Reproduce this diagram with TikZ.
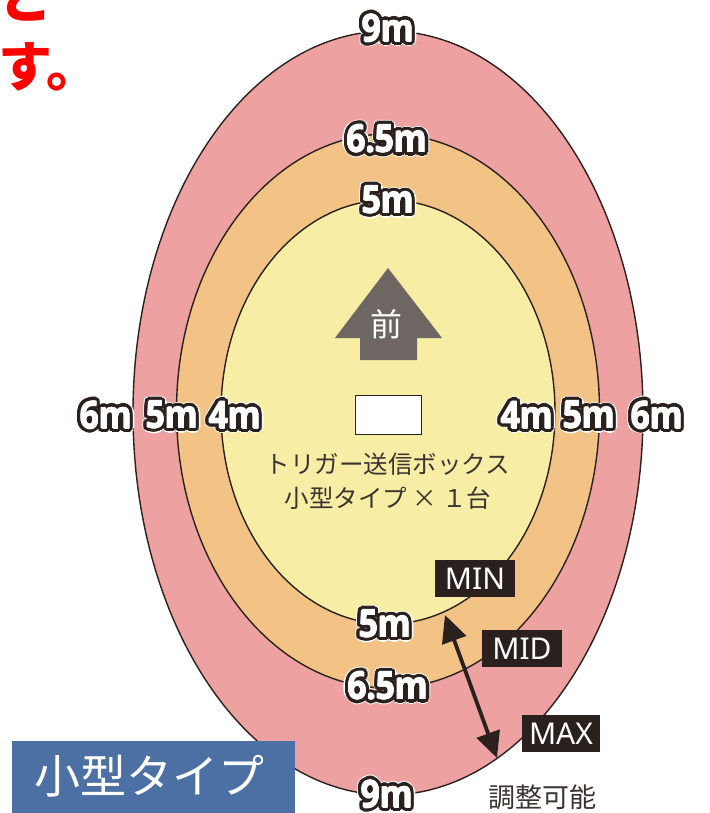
\documentclass[tikz,border=0pt]{standalone}
\usepackage{fontspec}
\setmainfont{Open Sans}
\newfontfamily\cjk{Noto Sans CJK JP}
\newfontfamily\lblfont{Open Sans}
\newfontfamily\tagfont{Noto Sans}
\usetikzlibrary{arrows.meta,calc}
\definecolor{ink}{HTML}{2A211E}
\definecolor{pinkring}{HTML}{EDA1A0}
\definecolor{orangering}{HTML}{F3C285}
\definecolor{yellowring}{HTML}{F8EDA5}
\definecolor{arrowgray}{HTML}{6E6663}
\definecolor{boxblue}{HTML}{4C70A4}
\definecolor{textdark}{HTML}{3B3431}
\definecolor{redtext}{HTML}{FF0000}
\tikzset{
  ring/.style={draw=ink, line width=1.4pt},
  mtxt/.style={inner sep=0pt, font=\lblfont\bfseries\fontsize{38}{38}\selectfont},
  tagbox/.style={fill=ink, text=white, inner sep=0pt, minimum width=80pt, minimum height=37pt, font=\tagfont\fontsize{30}{30}\selectfont},
  cjktext/.style={inner sep=0pt, text=textdark, font=\cjk\fontsize{24.5}{24.5}\selectfont},
  redtxt/.style={inner sep=0pt, text=redtext, anchor=west, font=\cjk\bfseries\fontsize{54}{54}\selectfont},
}
\newcommand\outl[3]{%
  \foreach \a in {0,30,...,330}{\node[mtxt,text=white] at ($(#2)+(\a:5pt)$) {\scalebox{0.88}[1]{#3}};}%
  \foreach \a in {0,15,...,345}{\node[mtxt,text=ink] at ($(#2)+(\a:3.6pt)$) {\scalebox{0.88}[1]{#3}};}%
  \foreach \a in {0,90,180,270}{\node[mtxt,text=white] at ($(#2)+(\a:0.5pt)$) {\scalebox{0.88}[1]{#3}};}%
  \node[mtxt,text=white] (#1) at (#2) {\scalebox{0.88}[1]{#3}};}
\begin{document}
\begin{tikzpicture}[x=1pt,y=-1pt]
\useasboundingbox (0,0) rectangle (709,813);
\clip (0,0) rectangle (709,813);
\fill[white] (0,0) rectangle (709,813);
% rings
\draw[ring, fill=pinkring] (388,413) ellipse [x radius=255, y radius=382];
\draw[ring, fill=orangering] (388,411) ellipse [x radius=211.5, y radius=277];
\draw[ring, fill=yellowring] (388,412) ellipse [x radius=167, y radius=212];
% forward arrow
\fill[arrowgray] (388,268) -- (442,338) -- (417,338) -- (417,360) -- (360,360) -- (360,338) -- (335,338) -- cycle;
\node[inner sep=0pt, text=white, font=\cjk\fontsize{32}{32}\selectfont] (front) at (386,324) {前};
% trigger box
\node[draw=ink, line width=1.5pt, fill=white, minimum width=66pt, minimum height=39pt, inner sep=0pt] (tbox) at (388.5,415) {};
\node[cjktext] (line1) at (388,464) {トリガー送信ボックス};
\node[cjktext] (line2) at (388,498) {小型タイプ × １台};
% adjust arrow
\coordinate (aT) at (445,615);
\coordinate (aB) at (497,758);
\draw[ink, line width=3.8pt, {Triangle[length=27pt,width=25pt]}-{Triangle[length=26pt,width=24pt]}] (aT) -- (aB);
\node[tagbox] (min) at (475,578.5) {MIN};
\node[tagbox] (mid) at (522,648.5) {MID};
\node[tagbox, minimum width=78pt] (max) at (561,733.5) {MAX};
\node[inner sep=0pt, text=textdark, font=\cjk\fontsize{27}{27}\selectfont] (adj) at (542,797) {調整可能};
% distance labels
\outl{t9}{388,28}{9m}
\outl{t65}{387,139}{6.5m}
\outl{t5}{388,200}{5m}
\outl{l6}{106,415}{6m}
\outl{l5}{172,415}{5m}
\outl{l4}{235,415}{4m}
\outl{r4}{527,415}{4m}
\outl{r5}{589,415}{5m}
\outl{r6}{657,415}{6m}
\outl{b5}{385,624}{5m}
\outl{b65}{388,686}{6.5m}
\outl{b9}{387,794}{9m}
% type box
\fill[boxblue] (12,741) rectangle (295,815);
\node[inner sep=0pt, text=white, font=\cjk\fontsize{46}{46}\selectfont] (typelbl) at (149,776) {小型タイプ};
% red text fragment
\node[redtxt] (to) at (-2,-2) {と};
\node[redtxt] (su) at (-2,67) {す。};
\end{tikzpicture}
\end{document}
